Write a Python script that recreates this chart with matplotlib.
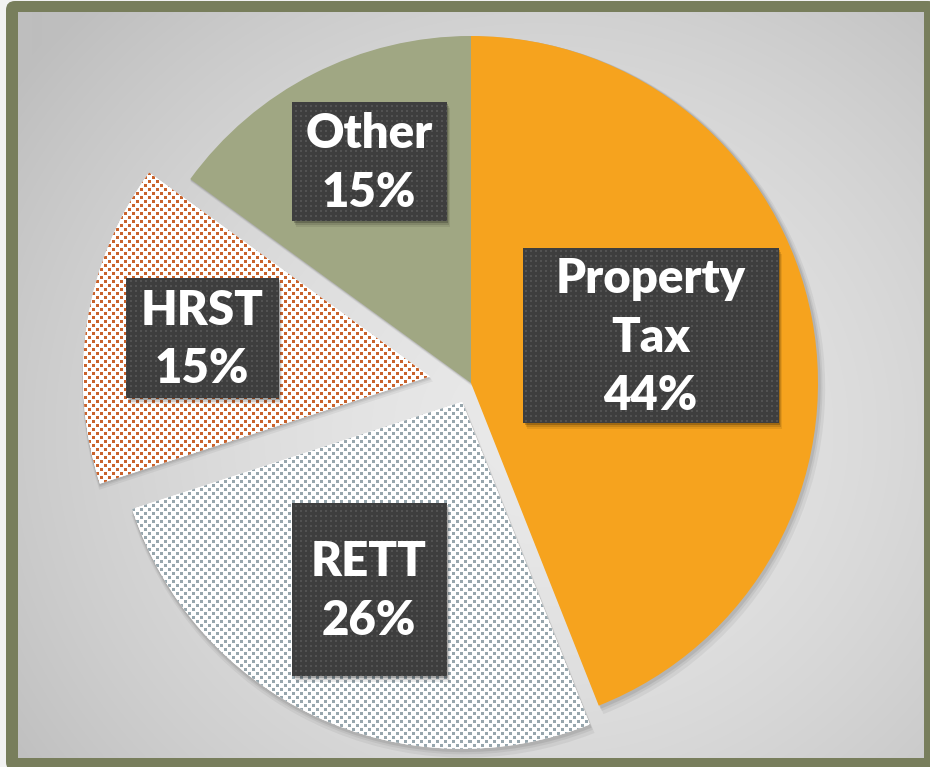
"""Revenue share pie: property tax, RETT, HRST and other, with boxed labels."""
import matplotlib
matplotlib.use("Agg")
import matplotlib.pyplot as plt
import numpy as np
from matplotlib.patches import FancyBboxPatch, Rectangle

W, H = 930, 767

# data
categories = ["Property Tax", "RETT", "HRST", "Other"]
shares = [44, 26, 15, 15]
label_lines = [["Property", "Tax", "44%"], ["RETT", "26%"], ["HRST", "15%"], ["Other", "15%"]]

# style
pie_center = (471, H - 383)
pie_radius = 347
explode_frac = [0.0, 0.06, 0.12, 0.0]
solid_colors = ["#f6a31e", "#ffffff", "#ffffff", "#a0a783"]
pattern_colors = [None, (151, 166, 173), (201, 98, 43), None]
# label boxes in pixel coords: left, top, right, bottom
boxes = [(523, 248, 778, 423), (292, 503, 446, 676), (126, 278, 278, 398), (292, 102, 446, 221)]
border_col = "#787e5c"


def py(y):
    return H - y


fig = plt.figure(figsize=(W / 100, H / 100), dpi=100)
fig.patch.set_facecolor("#f2f2f2")
ax = fig.add_axes([0, 0, 1, 1])
ax.set_axis_off()

# frame + radial gradient background
ax.add_patch(FancyBboxPatch((6, py(771)), 931, 770, boxstyle="round,pad=0,rounding_size=9",
                            fc=border_col, ec="none", zorder=0))
yy, xx = np.mgrid[0:H, 0:W]
d = np.sqrt(((xx - 540) / 560.0) ** 2 + ((yy - 430) / 520.0) ** 2)
g = np.clip(233 - 34 * d ** 1.6, 190, 235) / 255.0
bg = np.dstack([g, g, g])
inner = Rectangle((18, py(758)), 905, 746, transform=ax.transData)
im = ax.imshow(bg, extent=(0, W, 0, H), origin="upper", interpolation="bilinear", zorder=1)
im.set_clip_path(inner)

# pie explode is in data units here, so scale by the radius
explode = [f * pie_radius for f in explode_frac]

# soft shadow of the pie
for k, a in [(8, 0.05), (5, 0.06), (3, 0.08)]:
    sw, _ = ax.pie(shares, explode=explode, startangle=90, counterclock=False,
                   center=(pie_center[0] + k * 0.4, pie_center[1] - k * 0.6), radius=pie_radius + k * 0.5,
                   colors=["#000000"] * 4, wedgeprops=dict(linewidth=0, alpha=a), frame=True)
    for w in sw:
        w.set_zorder(2)

wedges, _ = ax.pie(shares, explode=explode, startangle=90, counterclock=False,
                   center=pie_center, radius=pie_radius, colors=solid_colors,
                   wedgeprops=dict(linewidth=0), frame=True)
for w in wedges:
    w.set_zorder(3)

# small-square patterns for RETT and HRST
sq = (yy % 4 < 3) & (((xx + 4 * ((yy // 4) % 2)) % 8) < 3)
for w, pc in zip(wedges, pattern_colors):
    if pc is None:
        continue
    img = np.ones((H, W, 3))
    img[sq] = np.array(pc) / 255.0
    pim = ax.imshow(img, extent=(0, W, 0, H), origin="upper", interpolation="nearest", zorder=4)
    pim.set_clip_path(w)

# dark dotted label boxes with shadow and white text
dots = (xx % 5 < 2) & (yy % 5 < 2)
box_img = np.full((H, W, 3), 62 / 255.0)
box_img[dots] = 82 / 255.0
for (l, t, r, b), lines in zip(boxes, label_lines):
    for k, a in [(7, 0.08), (5, 0.12), (3, 0.2)]:
        ax.add_patch(Rectangle((l + k * 0.6, py(b) - k * 0.8), r - l, b - t,
                               fc="#000000", ec="none", alpha=a, zorder=5))
    rect = Rectangle((l, py(b)), r - l, b - t, fc="none", ec="none", zorder=6)
    ax.add_patch(rect)
    bim = ax.imshow(box_img, extent=(0, W, 0, H), origin="upper", interpolation="nearest", zorder=6)
    bim.set_clip_path(rect)
    ax.text((l + r) / 2, py((t + b) / 2) - 2, "\n".join(lines), ha="center", va="center",
            color="white", fontsize=34, fontweight="heavy", family="Lato",
            linespacing=1.4, zorder=7)

ax.set_xlim(0, W)
ax.set_ylim(0, H)
ax.set_aspect("auto")
ax.set_axis_off()

fig.savefig("out.png", dpi=100, facecolor=fig.get_facecolor())
